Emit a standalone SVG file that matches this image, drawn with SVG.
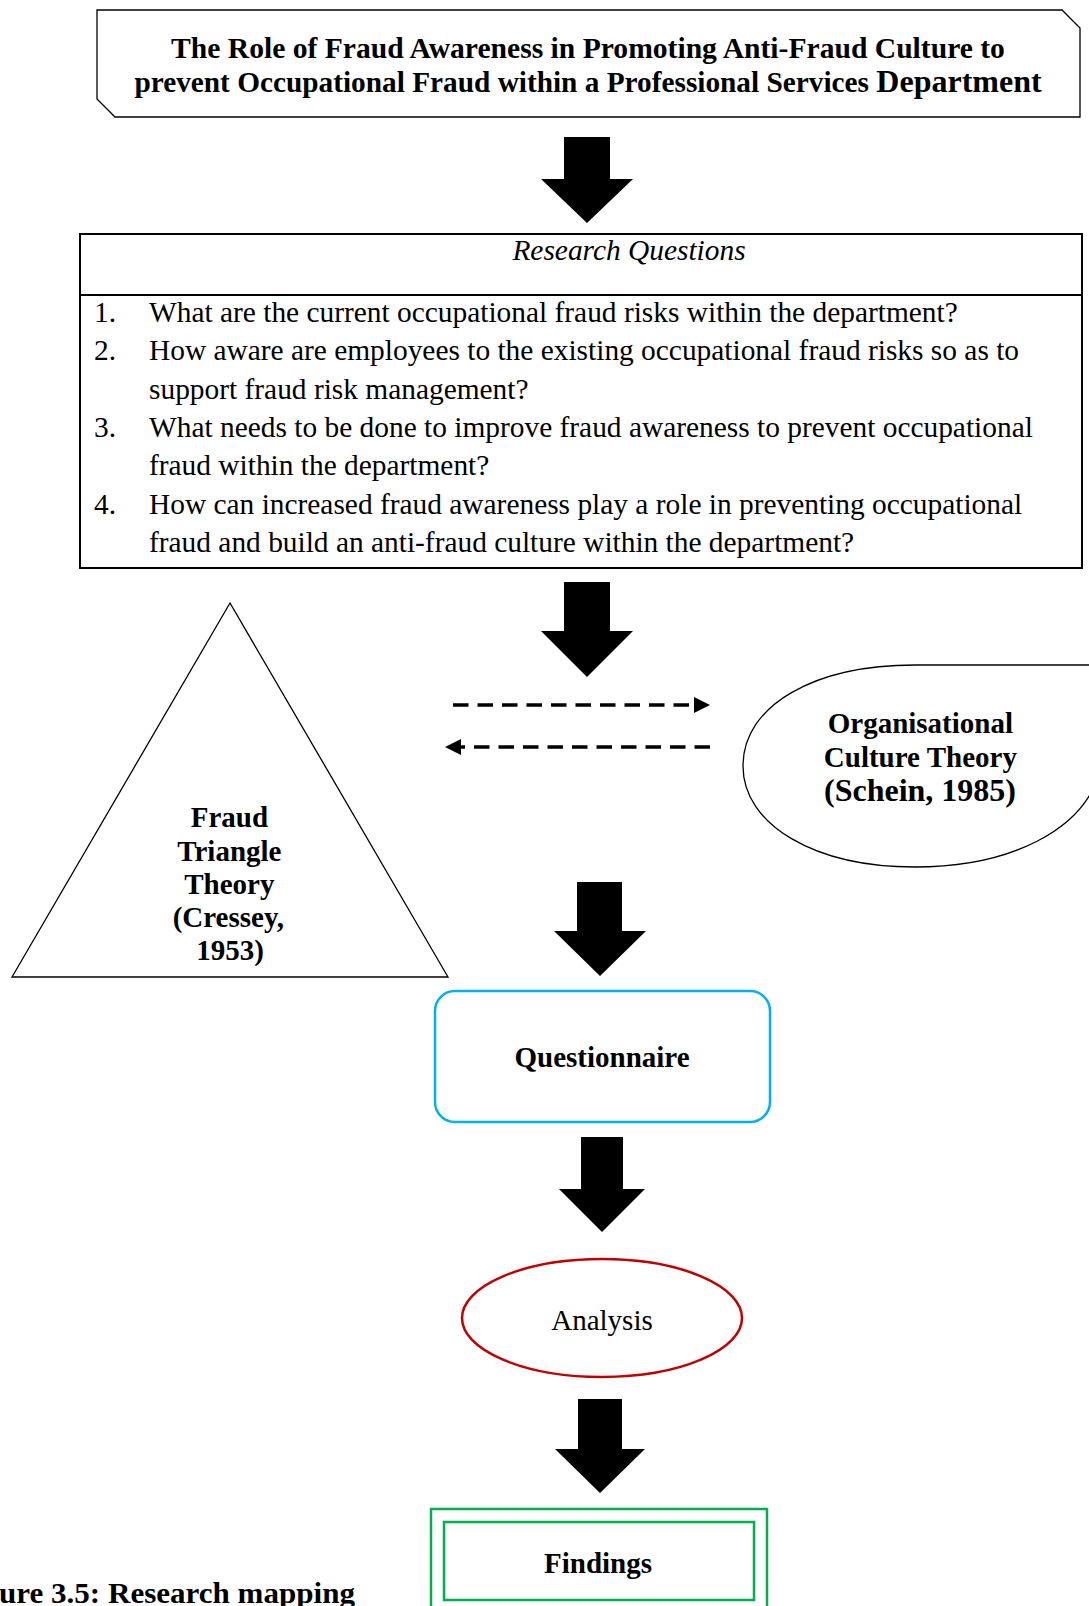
<svg xmlns="http://www.w3.org/2000/svg" width="1089" height="1606" viewBox="0 0 1089 1606">
<style>
text{font-family:"Liberation Serif","Times New Roman",serif;fill:#000}
.b{font-weight:bold}
.outline{fill:#fff;stroke:#000;stroke-width:1.3}
.block{fill:#000;stroke:none}
.dash{fill:none;stroke:#000;stroke-width:3.5;stroke-dasharray:15.5 9}
.q{font-size:29.4px}
</style>
<defs>
<marker id="head" markerUnits="userSpaceOnUse" markerWidth="16" markerHeight="16" refX="0" refY="8" orient="auto">
<path d="M0,0 L16,8 L0,16 Z" fill="#000"/>
</marker>
</defs>
<rect width="1089" height="1606" fill="#fff"/>

<g id="title">
<path class="outline" d="M97,10 L1062,10 L1080,28 L1080,117 L115,117 L97,99 Z"/>
<text class="b" x="588" y="58" font-size="29.6" text-anchor="middle">The Role of Fraud Awareness in Promoting Anti-Fraud Culture to</text>
<text class="b" x="588" y="92" font-size="29.3" text-anchor="middle">prevent Occupational Fraud within a Professional Services <tspan font-size="32">Department</tspan></text>
</g>

<g id="research-questions">
<rect x="80" y="234" width="1002" height="334" fill="#fff" stroke="#000" stroke-width="2"/>
<line x1="80" y1="295" x2="1082" y2="295" stroke="#000" stroke-width="2"/>
<text x="629" y="260" font-size="29.4" font-style="italic" text-anchor="middle">Research Questions</text>
<text class="q" x="94" y="322">1.</text>
<text class="q" x="149" y="322">What are the current occupational fraud risks within the department?</text>
<text class="q" x="94" y="360">2.</text>
<text class="q" x="149" y="360">How aware are employees to the existing occupational fraud risks so as to</text>
<text class="q" x="149" y="399">support fraud risk management?</text>
<text class="q" x="94" y="437">3.</text>
<text class="q" x="149" y="437">What needs to be done to improve fraud awareness to prevent occupational</text>
<text class="q" x="149" y="475">fraud within the department?</text>
<text class="q" x="94" y="514">4.</text>
<text class="q" x="149" y="514">How can increased fraud awareness play a role in preventing occupational</text>
<text class="q" x="149" y="552">fraud and build an anti-fraud culture within the department?</text>
</g>

<g id="fraud-triangle">
<polygon class="outline" points="230,603 12,977 448,977"/>
<text class="b" font-size="29" text-anchor="middle">
<tspan x="233" y="827">Fraud</tspan>
<tspan x="233" y="861">Triangle</tspan>
<tspan x="233" y="894">Theory</tspan>
<tspan x="232" y="927">(Cressey,</tspan>
<tspan x="230" y="960">1953)</tspan>
</text>
</g>

<g id="org-culture">
<path class="outline" d="M1100,770 C1085,830 1010,867 915,867 C815,867 743,825 743,766 C743,705 815,665 915,665 L1100,665"/>
<text class="b" font-size="29" text-anchor="middle">
<tspan x="924" y="733">Organisational</tspan>
<tspan x="924" y="767">Culture Theory</tspan>
<tspan x="920" y="801" font-size="32">(Schein, 1985)</tspan>
</text>
</g>

<g id="questionnaire">
<rect x="435" y="991" width="335" height="131" rx="20" ry="20" fill="#fff" stroke="#00B0F0" stroke-width="2.5"/>
<text class="b" x="602" y="1067" font-size="29" text-anchor="middle">Questionnaire</text>
</g>

<g id="analysis">
<ellipse cx="602" cy="1318" rx="140" ry="59" fill="#fff" stroke="#C00000" stroke-width="2.5"/>
<text x="602" y="1330" font-size="29" text-anchor="middle">Analysis</text>
</g>

<g id="findings">
<rect x="431" y="1509" width="336" height="110" fill="#fff" stroke="#00B050" stroke-width="2.5"/>
<rect x="444" y="1522" width="310" height="78" fill="#fff" stroke="#00B050" stroke-width="2.5"/>
<text class="b" x="598" y="1573" font-size="29" text-anchor="middle">Findings</text>
</g>

<g id="caption">
<text class="b" x="-1" y="1603" font-size="30" textLength="356" lengthAdjust="spacingAndGlyphs">ure 3.5: Research mapping</text>
</g>

<g id="connectors">
<polygon class="block" points="564,137 610,137 610,179 633,179 587,223 541,179 564,179"/>
<polygon class="block" points="564,582 610,582 610,631 633,631 587,677 541,631 564,631"/>
<polygon class="block" points="577,882 622,882 622,931 646,931 600,976 554,931 577,931"/>
<polygon class="block" points="581,1137 623,1137 623,1189 645,1189 602,1232 559,1189 581,1189"/>
<polygon class="block" points="578,1399 622,1399 622,1449 645,1449 600,1493 555,1449 578,1449"/>
<line class="dash" x1="453" y1="705" x2="694" y2="705" marker-end="url(#head)"/>
<line class="dash" x1="710" y1="747" x2="461" y2="747" marker-end="url(#head)"/>
</g>
</svg>
